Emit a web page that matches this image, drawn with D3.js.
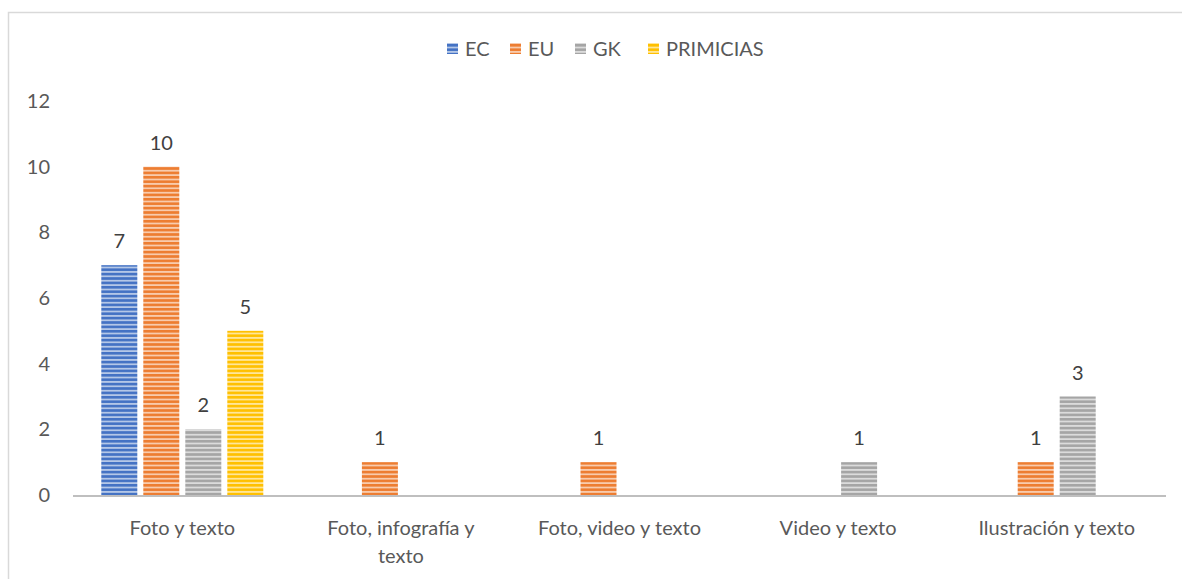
<!DOCTYPE html>
<html><head><meta charset="utf-8">
<script src="https://cdn.jsdelivr.net/npm/d3@7"></script>
<style>
html,body{margin:0;padding:0;background:#fff;}
svg{display:block;font-family:Lato,"Open Sans",sans-serif;}
</style></head>
<body>
<svg id="chart" width="1182" height="579"></svg>
<script>
const categories = ["Foto y texto", "Foto, infografía y texto", "Foto, video y texto", "Video y texto", "Ilustración y texto"];
const categoryLines = [["Foto y texto"], ["Foto, infografía y", "texto"], ["Foto, video y texto"], ["Video y texto"], ["Ilustración y texto"]];
const seriesNames = ["EC", "EU", "GK", "PRIMICIAS"];
const EC = [7, null, null, null, null];
const EU = [10, 1, 1, null, 1];
const GK = [2, null, null, 1, 3];
const PRIMICIAS = [5, null, null, null, null];
const yTicks = [0, 2, 4, 6, 8, 10, 12];
const colors = ["#4472C4", "#ED7D31", "#A5A5A5", "#FFC000"];
const lightColors = ["#b4c7e7", "#f8cbad", "#dbdbdb", "#ffe699"];

const seriesValues = [EC, EU, GK, PRIMICIAS];
const svg = d3.select("#chart");
const FS = 20;

// chart border
svg.append("path").attr("d", "M8.5,1182 V12.5 H1182").attr("fill", "none").attr("stroke", "#d9d9d9").attr("stroke-width", 1.5);

const defs = svg.append("defs");
seriesNames.forEach((s, i) => {
  const p = defs.append("pattern").attr("id", "pat" + i).attr("patternUnits", "userSpaceOnUse")
    .attr("width", 8).attr("height", 4.4);
  p.append("rect").attr("width", 8).attr("height", 4.4).attr("fill", lightColors[i]);
  p.append("rect").attr("y", 0).attr("width", 8).attr("height", 2.6).attr("fill", colors[i]);
});

const mLeft = 73, mRight = 1166, mTop = 101, mBottom = 495;
const x = d3.scaleBand().domain(categories).range([mLeft, mRight]).paddingInner(0).paddingOuter(0);
const y = d3.scaleLinear().domain([0, 12]).range([mBottom, mTop]);
const x1 = d3.scaleBand().domain(seriesNames).range([-84, 84]).paddingInner(6/42).paddingOuter(3/42);

// y tick labels
svg.append("g").selectAll("text").data(yTicks).join("text")
  .attr("x", 50).attr("y", d => y(d)).attr("dy", "0.35em").attr("text-anchor", "end")
  .attr("fill", "#595959").attr("font-size", FS).text(d => d);

// bars
seriesNames.forEach((s, i) => {
  const g = svg.append("g");
  const data = categories.map((c, j) => ({c, v: seriesValues[i][j]})).filter(d => d.v != null);
  g.selectAll("rect").data(data).join("rect")
    .attr("x", d => x(d.c) + x.bandwidth()/2 + x1(s))
    .attr("width", x1.bandwidth())
    .attr("y", d => y(d.v)).attr("height", d => y(0) - y(d.v))
    .attr("fill", "url(#pat" + i + ")");
  g.selectAll("text").data(data).join("text")
    .attr("x", d => x(d.c) + x.bandwidth()/2 + x1(s) + x1.bandwidth()/2)
    .attr("y", d => y(d.v) - 17).attr("text-anchor", "middle")
    .attr("fill", "#404040").attr("font-size", FS).text(d => d.v);
});

// x axis line
svg.append("line").attr("x1", mLeft).attr("x2", mRight).attr("y1", mBottom + 1).attr("y2", mBottom + 1)
  .attr("stroke", "#bfbfbf").attr("stroke-width", 2);

// category labels
categories.forEach((c, j) => {
  const t = svg.append("text").attr("text-anchor", "middle").attr("fill", "#595959").attr("font-size", FS);
  categoryLines[j].forEach((ln, k) => {
    t.append("tspan").attr("x", x(c) + x.bandwidth()/2).attr("y", 535 + k * 28).text(ln);
  });
});

// legend
const legendX = [447, 510, 575, 648];
const lg = svg.append("g");
seriesNames.forEach((s, i) => {
  lg.append("rect").attr("x", legendX[i]).attr("y", 43).attr("width", 11).attr("height", 11).attr("fill", "url(#pat" + i + ")");
  lg.append("text").attr("x", legendX[i] + 18).attr("y", 49).attr("dy", "0.35em")
    .attr("fill", "#595959").attr("font-size", FS).text(s);
});
</script>
</body></html>
